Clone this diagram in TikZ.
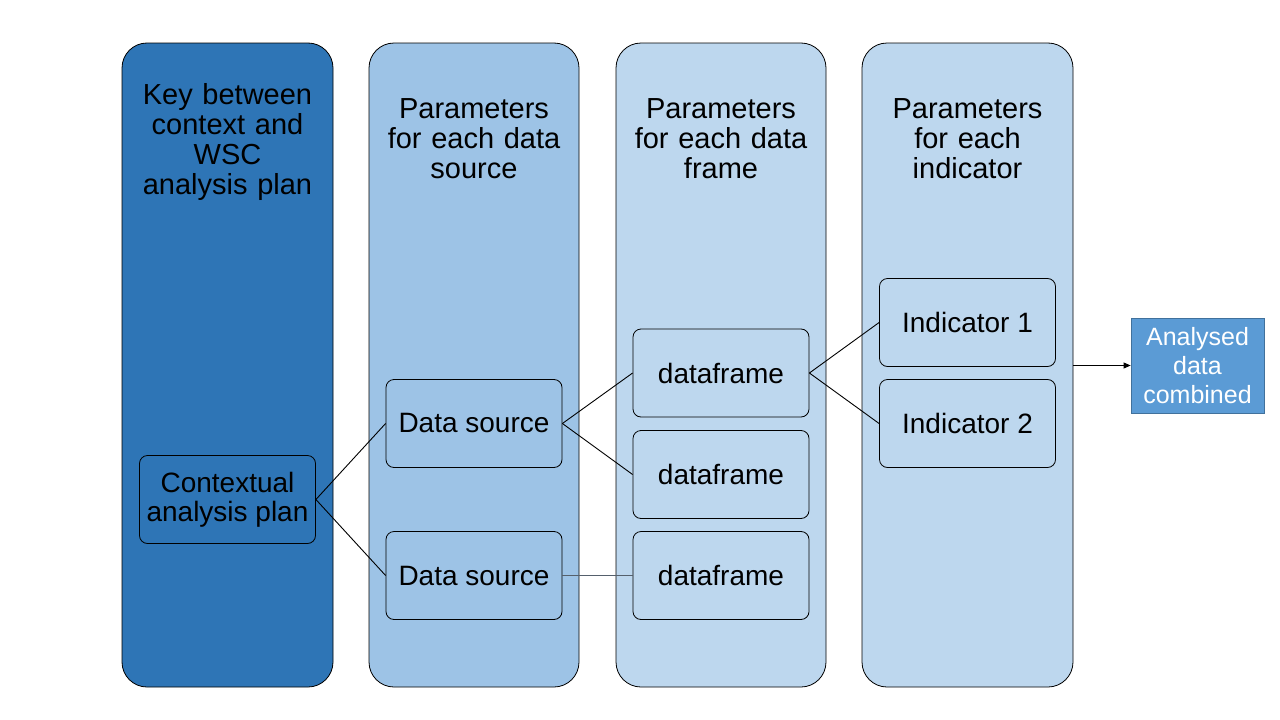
\documentclass[tikz,border=0pt]{standalone}
\usepackage{fontspec}
\setmainfont{Liberation Sans}
\usetikzlibrary{arrows.meta}
\definecolor{darkcol}{HTML}{2E75B6}
\definecolor{midcol}{HTML}{9DC3E6}
\definecolor{lightcol}{HTML}{BDD7EE}
\definecolor{outcol}{HTML}{5B9BD5}
\definecolor{outedge}{HTML}{41719C}
\definecolor{greyline}{HTML}{55606C}
\begin{document}
\begin{tikzpicture}[x=1pt,y=-1pt,
  column/.style={draw=black, line width=0.8pt, rounded corners=25pt},
  inner/.style={draw=black, line width=0.8pt, rounded corners=8pt, minimum width=176pt, minimum height=88pt, inner sep=0pt},
  title/.style={align=center, font=\fontsize{29}{30}\selectfont, text width=205pt},
  lbl/.style={font=\fontsize{28}{29}\selectfont, align=center},
  conn/.style={draw=black, line width=0.9pt}]
\useasboundingbox (0,0) rectangle (1280,720);
% columns
\path[column, fill=darkcol] (122,43) rectangle (333,687);
\path[column, fill=midcol] (369,43) rectangle (579,687);
\path[column, fill=lightcol] (616,43) rectangle (826,687);
\path[column, fill=lightcol] (862,43) rectangle (1073,687);
\coordinate (c4e) at (1073,365.5);
% titles
\node[title] (t1) at (227.5,142) {Key between\\context and\\WSC\\analysis plan};
\node[title] (t2) at (474,139) {Parameters\\for each data\\source};
\node[title] (t3) at (721,139) {Parameters\\for each data\\frame};
\node[title] (t4) at (967.5,139) {Parameters\\for each\\indicator};
% inner nodes
\node[inner, fill=darkcol, lbl] (cap) at (227.5,499.5) {Contextual\\analysis plan};
\node[inner, fill=midcol, lbl] (ds1) at (474,423.5) {Data source};
\node[inner, fill=midcol, lbl] (ds2) at (474,575.5) {Data source};
\node[inner, fill=lightcol, lbl] (df1) at (721,373) {dataframe};
\node[inner, fill=lightcol, lbl] (df2) at (721,474.5) {dataframe};
\node[inner, fill=lightcol, lbl] (df3) at (721,575.5) {dataframe};
\node[inner, fill=lightcol, lbl] (in1) at (967.5,322.5) {Indicator 1};
\node[inner, fill=lightcol, lbl] (in2) at (967.5,423.5) {Indicator 2};
\node[draw=outedge, line width=0.8pt, fill=outcol, text=white, minimum width=133pt, minimum height=95pt, inner sep=0pt, font=\fontsize{25}{29}\selectfont, align=center] (out) at (1197.5,365.5) {Analysed\\data\\combined};
% connectors
\draw[conn] (cap.east) -- (ds1.west);
\draw[conn] (cap.east) -- (ds2.west);
\draw[conn] (ds1.east) -- (df1.west);
\draw[conn] (ds1.east) -- (df2.west);
\draw[draw=greyline, line width=1.2pt] (ds2.east) -- (df3.west);
\draw[conn] (df1.east) -- (in1.west);
\draw[conn] (df1.east) -- (in2.west);
\draw[conn, -{Triangle[length=7pt,width=6pt]}] (c4e) -- (out.west);
\end{tikzpicture}
\end{document}
